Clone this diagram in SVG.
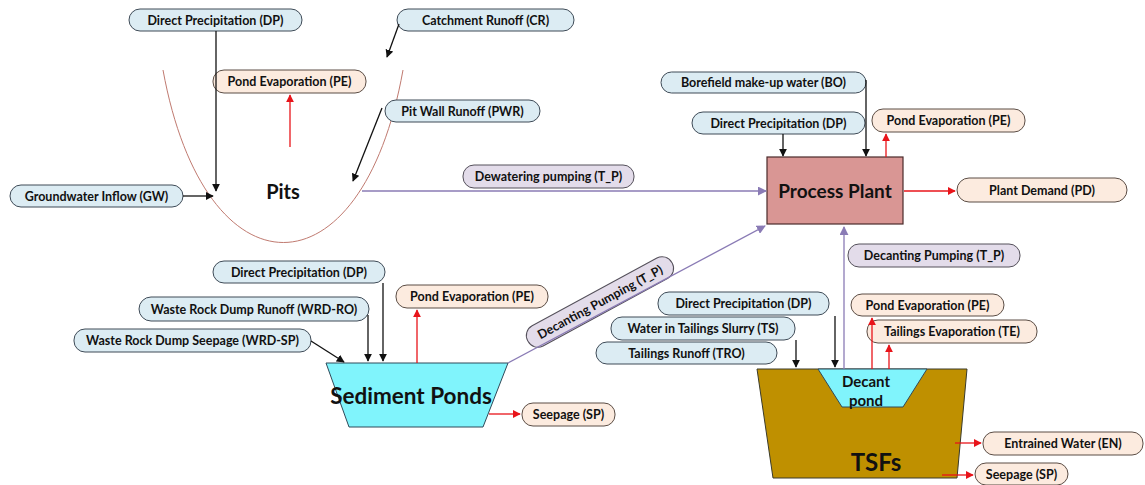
<svg xmlns="http://www.w3.org/2000/svg" width="1145" height="485" viewBox="0 0 1145 485">
<style>
.b{fill:#dcecf3;stroke:#3f4b57;stroke-width:1}
.p{fill:#fcebdf;stroke:#5b4d45;stroke-width:1}
.v{fill:#e3dcea;stroke:#54505a;stroke-width:1}
.t{font-family:Lato,"Liberation Sans",sans-serif;font-weight:bold;font-size:12.5px;fill:#111;text-anchor:middle;dominant-baseline:central}
.k{stroke:#111;stroke-width:1.3;fill:none;marker-end:url(#ak)}
.r{stroke:#e8141a;stroke-width:1.3;fill:none;marker-end:url(#ar)}
.u{stroke:#8a7bb5;stroke-width:1.3;fill:none;marker-end:url(#au)}
.big{font-family:Lato,"Liberation Sans",sans-serif;font-weight:bold;fill:#111;text-anchor:middle;dominant-baseline:central}
</style>
<defs>
<marker id="ak" viewBox="0 0 10 10" refX="9" refY="5" markerWidth="8" markerHeight="8" markerUnits="userSpaceOnUse" orient="auto"><path d="M0,0L10,5L0,10z" fill="#111"/></marker>
<marker id="ar" viewBox="0 0 10 10" refX="9" refY="5" markerWidth="8" markerHeight="8" markerUnits="userSpaceOnUse" orient="auto"><path d="M0,0L10,5L0,10z" fill="#e8141a"/></marker>
<marker id="au" viewBox="0 0 10 10" refX="9" refY="5" markerWidth="9" markerHeight="9" markerUnits="userSpaceOnUse" orient="auto"><path d="M0,0L10,5L0,10z" fill="#8a7bb5"/></marker>
</defs>
<rect width="1145" height="485" fill="#fff"/>

<g id="pits">
<path d="M163,70 C205,300 362,300 403,70" fill="none" stroke="#c07a70" stroke-width="1"/>
<text class="big" x="283" y="191" font-size="20">Pits</text>
</g>
<g id="process-plant">
<rect x="767" y="157" width="136" height="67" fill="#d99694" stroke="#4a2a2a" stroke-width="1.2"/>
<text class="big" x="835" y="190" font-size="19">Process Plant</text>
</g>
<g id="sediment-ponds">
<path d="M326,363 L508,363 L483,427 L349,427 Z" fill="#80f4fc" stroke="#2f4a5a" stroke-width="1"/>
<text class="big" x="411" y="395" font-size="22.5">Sediment Ponds</text>
</g>
<g id="tsfs">
<path d="M757,369 L967,369 L957,478 L773,478 Z" fill="#bf9000" stroke="#3a3a2a" stroke-width="1"/>
<path d="M818,369 L927,369 L903,407 L842,407 Z" fill="#80f4fc" stroke="#2f4a5a" stroke-width="1"/>
<text class="big" x="866" y="381" font-size="15">Decant</text>
<text class="big" x="866" y="400" font-size="15">pond</text>
<text class="big" x="876" y="461" font-size="24">TSFs</text>
</g>

<g id="pit-dp"><rect class="b" x="129" y="9" width="173" height="22" rx="11"/><text class="t" x="215.5" y="20">Direct Precipitation (DP)</text></g>
<g id="pit-cr"><rect class="b" x="397" y="9" width="177" height="22" rx="11"/><text class="t" x="485.5" y="20">Catchment Runoff (CR)</text></g>
<g id="pit-pe"><rect class="p" x="213" y="70" width="153" height="23" rx="11"/><text class="t" x="289.5" y="81.5">Pond Evaporation (PE)</text></g>
<g id="pit-pwr"><rect class="b" x="385" y="100" width="155" height="22" rx="11"/><text class="t" x="462.5" y="111">Pit Wall Runoff (PWR)</text></g>
<g id="pit-gw"><rect class="b" x="10" y="185" width="173" height="22" rx="11"/><text class="t" x="96.5" y="196">Groundwater Inflow (GW)</text></g>
<g id="dewatering"><rect class="v" x="463" y="165" width="171" height="23" rx="11"/><text class="t" x="548.5" y="176.5">Dewatering pumping (T_P)</text></g>

<g id="pp-bo"><rect class="b" x="661" y="72" width="205" height="21" rx="10.5"/><text class="t" x="763.5" y="82.5">Borefield make-up water (BO)</text></g>
<g id="pp-dp"><rect class="b" x="692" y="112" width="173" height="22" rx="11"/><text class="t" x="778.5" y="123">Direct Precipitation (DP)</text></g>
<g id="pp-pe"><rect class="p" x="872" y="109" width="153" height="23" rx="11"/><text class="t" x="948.5" y="120.5">Pond Evaporation (PE)</text></g>
<g id="pp-pd"><rect class="p" x="957" y="178" width="170" height="24" rx="12"/><text class="t" x="1042" y="190">Plant Demand (PD)</text></g>
<g id="tsf-tp"><rect class="v" x="848" y="244" width="172" height="23" rx="11"/><text class="t" x="934" y="255.5">Decanting Pumping (T_P)</text></g>
<g id="sed-tp" transform="translate(600,302) rotate(-28.5)"><rect class="v" x="-82" y="-11.5" width="164" height="23" rx="11"/><text class="t" x="0" y="0">Decanting Pumping (T_P)</text></g>

<g id="sed-dp"><rect class="b" x="213" y="261" width="172" height="22" rx="11"/><text class="t" x="299" y="272">Direct Precipitation (DP)</text></g>
<g id="sed-wrdro"><rect class="b" x="139" y="297" width="230" height="24" rx="12"/><text class="t" x="254" y="309">Waste Rock Dump Runoff (WRD-RO)</text></g>
<g id="sed-wrdsp"><rect class="b" x="74" y="329" width="237" height="23" rx="11"/><text class="t" x="192.5" y="340.5">Waste Rock Dump Seepage (WRD-SP)</text></g>
<g id="sed-pe"><rect class="p" x="396" y="285" width="152" height="23" rx="11"/><text class="t" x="472" y="296.5">Pond Evaporation (PE)</text></g>
<g id="sed-sp"><rect class="p" x="522" y="403" width="93" height="23" rx="11"/><text class="t" x="568.5" y="414.5">Seepage (SP)</text></g>

<g id="tsf-dp"><rect class="b" x="658" y="292" width="171" height="23" rx="11"/><text class="t" x="743.5" y="303.5">Direct Precipitation (DP)</text></g>
<g id="tsf-ts"><rect class="b" x="611" y="317" width="184" height="23" rx="11"/><text class="t" x="703" y="328.5">Water in Tailings Slurry (TS)</text></g>
<g id="tsf-tro"><rect class="b" x="596" y="342" width="181" height="22" rx="11"/><text class="t" x="686.5" y="353">Tailings Runoff (TRO)</text></g>
<g id="tsf-pe"><rect class="p" x="851" y="294" width="153" height="22" rx="11"/><text class="t" x="927.5" y="305">Pond Evaporation (PE)</text></g>
<g id="tsf-te"><rect class="p" x="867" y="320" width="170" height="23" rx="11"/><text class="t" x="952" y="331.5">Tailings Evaporation (TE)</text></g>
<g id="tsf-en"><rect class="p" x="983" y="432" width="160" height="23" rx="11"/><text class="t" x="1063" y="443.5">Entrained Water (EN)</text></g>
<g id="tsf-sp"><rect class="p" x="975" y="463" width="93" height="22" rx="11"/><text class="t" x="1021.5" y="474">Seepage (SP)</text></g>

<g id="connectors">
<path class="k" d="M216,31 V191"/>
<path class="k" d="M183,196 H213"/>
<path class="r" d="M290,147 V95"/>
<path class="k" d="M399,24 L387,57"/>
<path class="k" d="M382,108 L353,181"/>
<path class="u" d="M362,191 H766"/>
<path class="k" d="M866,80 V156"/>
<path class="k" d="M783,134 V156"/>
<path class="r" d="M886,157 V134"/>
<path class="r" d="M904,191 H955"/>
<path class="u" d="M844,369 V227"/>
<path class="u" d="M508,363 L765,226"/>
<path class="k" d="M383,283 V361"/>
<path class="k" d="M368,315 V361"/>
<path class="k" d="M311,341 L344,362"/>
<path class="r" d="M417,363 V310"/>
<path class="r" d="M489,414 H520"/>
<path class="k" d="M835,316 V367"/>
<path class="k" d="M796,340 V367"/>
<path class="r" d="M872,369 V318"/>
<path class="r" d="M889,369 V345"/>
<path class="r" d="M955,443 H981"/>
<path class="r" d="M942,475 H973"/>
</g>
</svg>
